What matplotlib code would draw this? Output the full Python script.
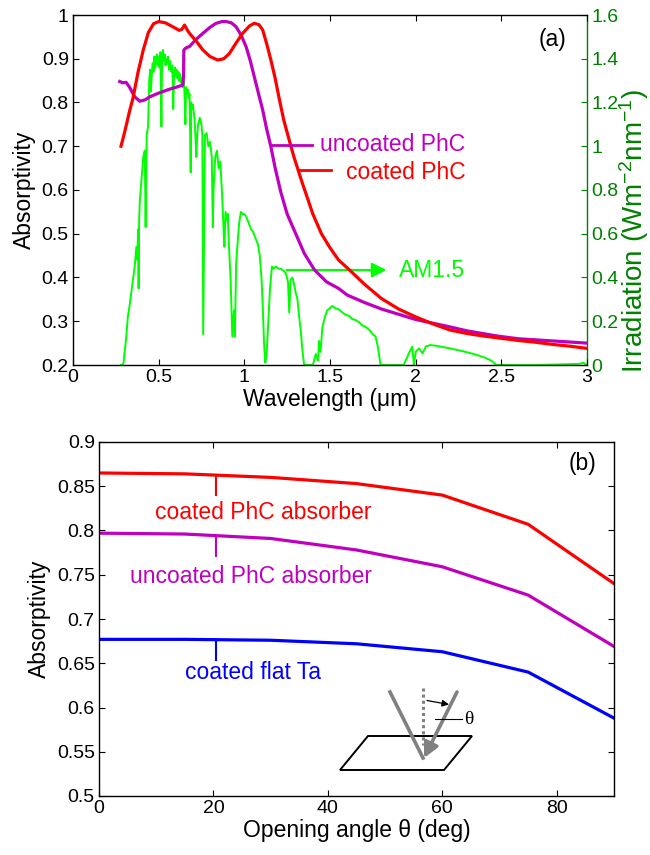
import matplotlib
matplotlib.use("Agg")
import matplotlib.pyplot as plt
from matplotlib.patches import Polygon, FancyArrowPatch
from matplotlib.lines import Line2D

plt.rcParams['font.family'] = ['Liberation Sans', 'DejaVu Sans']
plt.rcParams['mathtext.fontset'] = 'custom'
plt.rcParams['mathtext.rm'] = 'Liberation Sans'
plt.rcParams['mathtext.it'] = 'Liberation Sans'

# ---------------- data: panel (a) ----------------
coated_wl = [0.28, 0.30, 0.33, 0.35, 0.38, 0.41, 0.44, 0.47, 0.50, 0.54, 0.583, 0.62, 0.635,
             0.651, 0.665, 0.68, 0.72, 0.758, 0.80, 0.845, 0.88, 0.913, 0.95, 0.99, 1.03,
             1.058, 1.085, 1.107, 1.13, 1.155, 1.18, 1.203, 1.23, 1.262, 1.29, 1.335, 1.40,
             1.45, 1.50, 1.55, 1.62, 1.70, 1.80, 1.90, 2.0, 2.1, 2.2, 2.3, 2.4, 2.5, 2.6,
             2.7, 2.8, 2.9, 3.0]
coated_abs = [0.70, 0.73, 0.78, 0.81, 0.87, 0.92, 0.96, 0.98, 0.985, 0.982, 0.973, 0.965, 0.967,
              0.977, 0.967, 0.958, 0.94, 0.92, 0.905, 0.897, 0.90, 0.912, 0.935, 0.958, 0.975,
              0.981, 0.978, 0.966, 0.935, 0.897, 0.855, 0.81, 0.76, 0.714, 0.675, 0.62, 0.545,
              0.50, 0.468, 0.44, 0.415, 0.385, 0.352, 0.328, 0.310, 0.294, 0.280, 0.272, 0.266,
              0.261, 0.256, 0.252, 0.247, 0.243, 0.238]

uncoated_wl = [0.273, 0.29, 0.31, 0.33, 0.36, 0.39, 0.42, 0.448, 0.49, 0.525, 0.56, 0.603, 0.641,
               0.645, 0.647, 0.66, 0.68, 0.72, 0.758, 0.80, 0.835, 0.87, 0.894, 0.925, 0.952,
               0.98, 1.01, 1.035, 1.058, 1.083, 1.107, 1.13, 1.155, 1.18, 1.213, 1.25, 1.30,
               1.35, 1.41, 1.48, 1.55, 1.60, 1.70, 1.80, 1.90, 2.0, 2.19, 2.3, 2.48, 2.6, 2.8, 3.0]
uncoated_abs = [0.848, 0.845, 0.846, 0.835, 0.813, 0.803, 0.806, 0.813, 0.82, 0.825, 0.83, 0.835, 0.84,
                0.86, 0.92, 0.925, 0.928, 0.945, 0.958, 0.972, 0.981, 0.985, 0.985, 0.982, 0.973,
                0.955, 0.928, 0.895, 0.859, 0.82, 0.783, 0.74, 0.699, 0.65, 0.595, 0.545, 0.50,
                0.455, 0.417, 0.39, 0.375, 0.36, 0.343, 0.328, 0.316, 0.304, 0.288, 0.278, 0.266,
                0.26, 0.255, 0.25]

am_wl = [0.28, 0.29, 0.295, 0.30, 0.31, 0.32, 0.33, 0.34, 0.35, 0.36,
         0.37, 0.375, 0.38, 0.383, 0.386, 0.39, 0.40, 0.41, 0.419, 0.424,
         0.43, 0.438, 0.44, 0.445, 0.45, 0.455, 0.46, 0.465, 0.47, 0.475,
         0.48, 0.485, 0.49, 0.495, 0.50, 0.505, 0.51, 0.516, 0.52, 0.525,
         0.53, 0.535, 0.54, 0.545, 0.55, 0.555, 0.56, 0.565, 0.57, 0.575,
         0.58, 0.585, 0.59, 0.595, 0.60, 0.605, 0.61, 0.615, 0.62, 0.625,
         0.63, 0.635, 0.64, 0.645, 0.65, 0.656, 0.66, 0.665, 0.67, 0.675,
         0.68, 0.687, 0.69, 0.695, 0.70, 0.71, 0.72, 0.725, 0.73, 0.74,
         0.75, 0.755, 0.76, 0.765, 0.77, 0.78, 0.79, 0.80, 0.81, 0.816,
         0.82, 0.83, 0.84, 0.85, 0.86, 0.87, 0.88, 0.884, 0.89, 0.90,
         0.903, 0.91, 0.92, 0.93, 0.94, 0.945, 0.952, 0.96, 0.97, 0.98,
         0.99, 1.00, 1.01, 1.02, 1.03, 1.04, 1.05, 1.06, 1.07, 1.08,
         1.09, 1.10, 1.107, 1.115, 1.122, 1.13, 1.14, 1.145, 1.15, 1.161,
         1.17, 1.184, 1.20, 1.213, 1.23, 1.242, 1.255, 1.262, 1.27, 1.281,
         1.29, 1.30, 1.31, 1.32, 1.33, 1.34, 1.349, 1.40, 1.417, 1.43,
         1.436, 1.445, 1.455, 1.47, 1.484, 1.50, 1.514, 1.53, 1.55, 1.572,
         1.59, 1.61, 1.63, 1.65, 1.67, 1.69, 1.707, 1.73, 1.75, 1.766,
         1.78, 1.795, 1.93, 1.96, 1.98, 1.99, 2.00, 2.02, 2.04, 2.06,
         2.085, 2.12, 2.16, 2.20, 2.24, 2.28, 2.32, 2.357, 2.40, 2.434,
         2.45, 2.47, 2.7, 2.95, 2.98, 3.0]
am_irr = [0.0, 0.0, 0.01, 0.05, 0.12, 0.22, 0.27, 0.33, 0.39, 0.45,
          0.54, 0.48, 0.62, 0.35, 0.66, 0.75, 0.85, 0.95, 0.98, 0.63,
          1.05, 1.09, 1.15, 1.30, 1.35, 1.25, 1.33, 1.38, 1.34, 1.41,
          1.36, 1.40, 1.42, 1.37, 1.41, 1.36, 1.43, 1.09, 1.40, 1.44,
          1.39, 1.42, 1.37, 1.40, 1.38, 1.41, 1.35, 1.39, 1.36, 1.34,
          1.37, 1.17, 1.33, 1.36, 1.32, 1.35, 1.31, 1.34, 1.30, 1.33,
          1.29, 1.31, 1.27, 1.30, 1.26, 1.10, 1.27, 1.24, 1.26, 1.22,
          1.24, 0.88, 1.20, 1.17, 1.19, 1.12, 0.95, 1.05, 1.10, 1.13,
          1.10, 1.05, 0.14, 0.60, 1.05, 1.06, 1.00, 1.02, 0.95, 0.63,
          0.80, 0.95, 0.98, 0.90, 0.93, 0.78, 0.60, 0.54, 0.70, 0.66,
          0.69, 0.55, 0.39, 0.13, 0.25, 0.13, 0.46, 0.55, 0.65, 0.70,
          0.69, 0.69, 0.68, 0.66, 0.64, 0.62, 0.61, 0.59, 0.57, 0.55,
          0.50, 0.40, 0.28, 0.10, 0.01, 0.05, 0.20, 0.27, 0.35, 0.45,
          0.44, 0.45, 0.44, 0.44, 0.43, 0.42, 0.38, 0.24, 0.39, 0.40,
          0.37, 0.33, 0.30, 0.22, 0.15, 0.06, 0.0, 0.0, 0.05, 0.02,
          0.11, 0.06, 0.17, 0.22, 0.25, 0.26, 0.27, 0.26, 0.255, 0.24,
          0.23, 0.225, 0.21, 0.205, 0.195, 0.18, 0.175, 0.16, 0.14, 0.13,
          0.08, 0.0, 0.0, 0.053, 0.084, 0.0, 0.06, 0.076, 0.053, 0.085,
          0.091, 0.088, 0.082, 0.076, 0.069, 0.062, 0.054, 0.046, 0.035, 0.023,
          0.015, 0.0, 0.0, 0.005, 0.01, 0.0]

wl_ticks = [0, 0.5, 1, 1.5, 2, 2.5, 3]
wl_ticklabels = ['0', '0.5', '1', '1.5', '2', '2.5', '3']
abs_ticks_a = [0.2, 0.3, 0.4, 0.5, 0.6, 0.7, 0.8, 0.9, 1.0]
abs_ticklabels_a = ['0.2', '0.3', '0.4', '0.5', '0.6', '0.7', '0.8', '0.9', '1']
irr_ticks = [0, 0.2, 0.4, 0.6, 0.8, 1.0, 1.2, 1.4, 1.6]
irr_ticklabels = ['0', '0.2', '0.4', '0.6', '0.8', '1', '1.2', '1.4', '1.6']

# ---------------- data: panel (b) ----------------
angle = [0, 15, 30, 45, 60, 75, 90]
coated_phc = [0.865, 0.864, 0.860, 0.853, 0.840, 0.807, 0.740]
uncoated_phc = [0.797, 0.796, 0.791, 0.778, 0.759, 0.727, 0.669]
coated_flat = [0.677, 0.677, 0.676, 0.672, 0.663, 0.640, 0.588]
angle_ticks = [0, 20, 40, 60, 80]
abs_ticks_b = [0.5, 0.55, 0.6, 0.65, 0.7, 0.75, 0.8, 0.85, 0.9]
abs_ticklabels_b = ['0.5', '0.55', '0.6', '0.65', '0.7', '0.75', '0.8', '0.85', '0.9']

RED = '#ff0000'
MAG = '#bf00bf'
BLUE = '#0000ff'
LIME = '#00ff00'
DKGREEN = '#008000'
TICK_FS = 14
LAB_FS = 16.5

W, H = 650, 855
fig = plt.figure(figsize=(W / 100, H / 100), dpi=100)

def fx(px):
    return px / W

def fy(py):
    return 1 - py / H

# ---------------- panel (a) ----------------
ax1 = fig.add_axes([fx(73), fy(365), (587 - 73) / W, (365 - 15) / H])
ax1r = ax1.twinx()
ax1.set_zorder(ax1r.get_zorder() + 1)
ax1.patch.set_visible(False)

ax1r.plot(am_wl, am_irr, color=LIME, lw=1.4)
ax1.plot(uncoated_wl, uncoated_abs, color=MAG, lw=2.3)
ax1.plot(coated_wl, coated_abs, color=RED, lw=2.3)

ax1.set_xlim(0, 3)
ax1.set_ylim(0.2, 1.0)
ax1r.set_ylim(0, 1.6)
ax1.set_xticks(wl_ticks)
ax1.set_xticklabels(wl_ticklabels)
ax1.set_yticks(abs_ticks_a)
ax1.set_yticklabels(abs_ticklabels_a)
ax1r.set_yticks(irr_ticks)
ax1r.set_yticklabels(irr_ticklabels)

ax1.tick_params(direction='in', length=4, width=0.8, labelsize=TICK_FS, top=True,
                right=False, pad=3)
ax1r.tick_params(direction='in', length=4, width=0.8, labelsize=TICK_FS, colors=DKGREEN,
                 pad=3)
for sp in ax1.spines.values():
    sp.set_linewidth(1.0)
ax1.spines['right'].set_visible(False)
for name, sp in ax1r.spines.items():
    sp.set_linewidth(1.0)
    if name != 'right':
        sp.set_visible(False)
ax1r.spines['right'].set_color(DKGREEN)

ax1.set_xlabel('Wavelength (\u03bcm)', fontsize=LAB_FS, labelpad=1)
ax1.set_ylabel('Absorptivity', fontsize=LAB_FS, labelpad=4)
fig.text(fx(643), fy(231), 'Irradiation (Wm$^{-2}$nm$^{-1}$)', fontsize=20, color=DKGREEN,
         rotation=90, rotation_mode='anchor', ha='center', va='baseline')

# annotations (a)
ax1.plot([1.155, 1.395], [0.703, 0.703], color=MAG, lw=2)
ax1.text(2.29, 0.703, 'uncoated PhC', color=MAG, fontsize=LAB_FS, ha='right', va='center')
ax1.plot([1.32, 1.504], [0.646, 0.646], color=RED, lw=2)
ax1.text(2.29, 0.641, 'coated PhC', color=RED, fontsize=LAB_FS, ha='right', va='center')
ax1r.annotate('', xy=(1.83, 0.434), xytext=(1.247, 0.434),
              arrowprops=dict(arrowstyle='-|>', color=LIME, lw=1.6,
                              mutation_scale=22, shrinkA=0, shrinkB=0))
ax1r.text(2.29, 0.434, 'AM1.5', color=LIME, fontsize=LAB_FS, ha='right', va='center')
ax1.text(2.80, 0.943, '(a)', fontsize=LAB_FS, ha='center', va='center')

# ---------------- panel (b) ----------------
ax2 = fig.add_axes([fx(99), fy(796), (614 - 99) / W, (796 - 442) / H])
ax2.plot(angle, coated_phc, color=RED, lw=2.3)
ax2.plot(angle, uncoated_phc, color=MAG, lw=2.3)
ax2.plot(angle, coated_flat, color=BLUE, lw=2.3)
ax2.set_xlim(0, 90)
ax2.set_ylim(0.5, 0.9)
ax2.set_xticks(angle_ticks)
ax2.set_yticks(abs_ticks_b)
ax2.set_yticklabels(abs_ticklabels_b)
ax2.tick_params(direction='in', length=4, width=0.8, labelsize=TICK_FS, top=True,
                right=True, pad=3)
for sp in ax2.spines.values():
    sp.set_linewidth(1.0)
ax2.set_xlabel('Opening angle \u03b8 (deg)', fontsize=LAB_FS, labelpad=1)
ax2.set_ylabel('Absorptivity', fontsize=LAB_FS, labelpad=4)

ax2.plot([20.4, 20.4], [0.862, 0.840], color=RED, lw=1.5)
ax2.text(9.8, 0.820, 'coated PhC absorber', color=RED, fontsize=LAB_FS, ha='left', va='center')
ax2.plot([20.4, 20.4], [0.793, 0.771], color=MAG, lw=1.5)
ax2.text(5.4, 0.748, 'uncoated PhC absorber', color=MAG, fontsize=LAB_FS, ha='left', va='center')
ax2.plot([20.4, 20.4], [0.676, 0.654], color=BLUE, lw=1.5)
ax2.text(15.0, 0.640, 'coated flat Ta', color=BLUE, fontsize=LAB_FS, ha='left', va='center')
ax2.text(84.5, 0.876, '(b)', fontsize=LAB_FS, ha='center', va='center')

# inset schematic (figure pixel coordinates)
para = Polygon([(fx(368), fy(736)), (fx(472), fy(736)), (fx(444), fy(770)), (fx(340), fy(770))],
               closed=True, fill=False, edgecolor='black', lw=1.4, transform=fig.transFigure)
fig.add_artist(para)
GRAY = '#808080'
fig.add_artist(Line2D([fx(390), fx(423)], [fy(692), fy(758)], color=GRAY, lw=2.6,
                      transform=fig.transFigure))
fig.add_artist(FancyArrowPatch((fx(457), fy(692)), (fx(424), fy(758)), transform=fig.transFigure,
                               arrowstyle='-|>', mutation_scale=22, color=GRAY, lw=2.6,
                               shrinkA=0, shrinkB=0))
fig.add_artist(Line2D([fx(422.7), fx(422.7)], [fy(688), fy(745)], color=GRAY, lw=2.2,
                      ls=(0, (1, 1)), transform=fig.transFigure))
fig.add_artist(FancyArrowPatch((fx(427), fy(700.5)), (fx(449), fy(704.5)), transform=fig.transFigure,
                               arrowstyle='-|>', mutation_scale=10, color='black', lw=0.9,
                               shrinkA=0, shrinkB=0))
fig.add_artist(Line2D([fx(435), fx(462)], [fy(719), fy(719)], color='black', lw=0.8,
                      transform=fig.transFigure))
fig.text(fx(469), fy(720), '\u03b8', fontsize=14, family='Liberation Serif', ha='center',
         va='center')

fig.savefig('out.png', dpi=100)
